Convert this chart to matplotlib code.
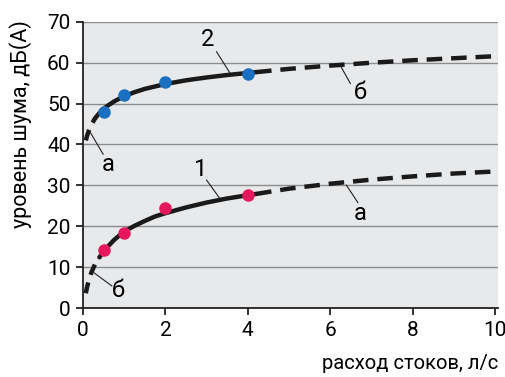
import matplotlib.pyplot as plt

plt.rcParams['font.family'] = ['Roboto', 'DejaVu Sans']

# measured points
flow = [0.5, 1, 2, 4]
noise_2 = [48.0, 52.0, 55.4, 57.3]
noise_1 = [14.2, 18.4, 24.5, 27.6]

# curves
curve_x = [0.07, 0.1, 0.15, 0.2, 0.3, 0.4, 0.5, 0.6, 0.75, 0.9, 1, 1.25, 1.5, 1.75,
           2, 2.5, 3, 3.5, 4, 4.2, 5, 6, 7, 8, 9, 10]
curve_2 = [41.0, 42.2, 43.6, 44.8, 46.5, 47.7, 48.7, 49.5, 50.5, 51.3, 51.8, 52.8, 53.6, 54.2,
           54.8, 55.7, 56.4, 57.0, 57.5, 57.7, 58.5, 59.3, 60.0, 60.6, 61.1, 61.6]
curve_1 = [3.6, 5.2, 7.0, 8.6, 10.9, 12.4, 13.9, 15.0, 16.6, 17.9, 18.7, 20.1, 21.3, 22.4,
           23.2, 24.6, 25.8, 26.8, 27.6, 27.9, 29.2, 30.4, 31.4, 32.2, 32.9, 33.4]

fig = plt.figure(figsize=(5.06, 3.77), dpi=100)
ax = fig.add_axes([0.164, 0.183, 0.820, 0.759])
ax.set_facecolor('#e8e9eb')

ax.set_xlim(0, 10.07)
ax.set_ylim(0, 70)
ax.set_xticks([0, 2, 4, 6, 8, 10])
ax.set_yticks(range(0, 71, 10))
ax.yaxis.grid(True, color='#8c8c8c', lw=1)
ax.set_axisbelow(True)
for s in ['top', 'right']:
    ax.spines[s].set_visible(False)
for s in ['left', 'bottom']:
    ax.spines[s].set_color('#222222')
    ax.spines[s].set_linewidth(1.3)
ax.tick_params(direction='out', length=5, width=1.3, color='#222222', labelsize=15, pad=4)

# split curves into dashed / solid parts
def draw_curve(ys, start, stop):
    ax.plot(curve_x[:start + 1], ys[:start + 1], color='#1a1a1a', lw=3.2, ls=(0, (2.5, 1.8)))
    ax.plot(curve_x[start:stop + 1], ys[start:stop + 1], color='#1a1a1a', lw=3.2, solid_capstyle='round')
    ax.plot(curve_x[stop:], ys[stop:], color='#1a1a1a', lw=3.2, ls=(0, (3.5, 2)))

ax.plot(flow, noise_2, 'o', color='#1a6fc0', ms=8, zorder=3)
ax.plot(flow, noise_1, 'o', color='#e5185d', ms=8, zorder=3)
draw_curve(curve_2, 4, 19)
draw_curve(curve_1, 5, 19)

# labels with leader lines: text, text position, leader start, leader end
labels = [
    ('2', (3.03, 65.8), (3.24, 62.7), (3.56, 57.6)),
    ('б', (6.73, 52.6), (6.23, 59.6), (6.49, 54.9)),
    ('а', (0.61, 35.2), (0.17, 43.1), (0.49, 37.6)),
    ('1', (2.84, 33.8), (3.0, 31.3), (3.32, 26.8)),
    ('а', (6.73, 23.2), (6.39, 30.1), (6.67, 25.8)),
    ('б', (0.86, 4.2), (0.27, 8.6), (0.7, 5.4)),
]
for txt, pos, a, b in labels:
    ax.plot([a[0], b[0]], [a[1], b[1]], color='#222222', lw=0.8)
    ax.text(pos[0], pos[1], txt, fontsize=17, ha='center', va='center')

fig.text(0.04, 0.672, 'уровень шума, дБ(А)', rotation=90, ha='center', va='center', fontsize=15.5)
fig.text(0.985, 0.035, 'расход стоков, л/с', ha='right', va='center', fontsize=14.5)

fig.savefig('out.png', dpi=100)
